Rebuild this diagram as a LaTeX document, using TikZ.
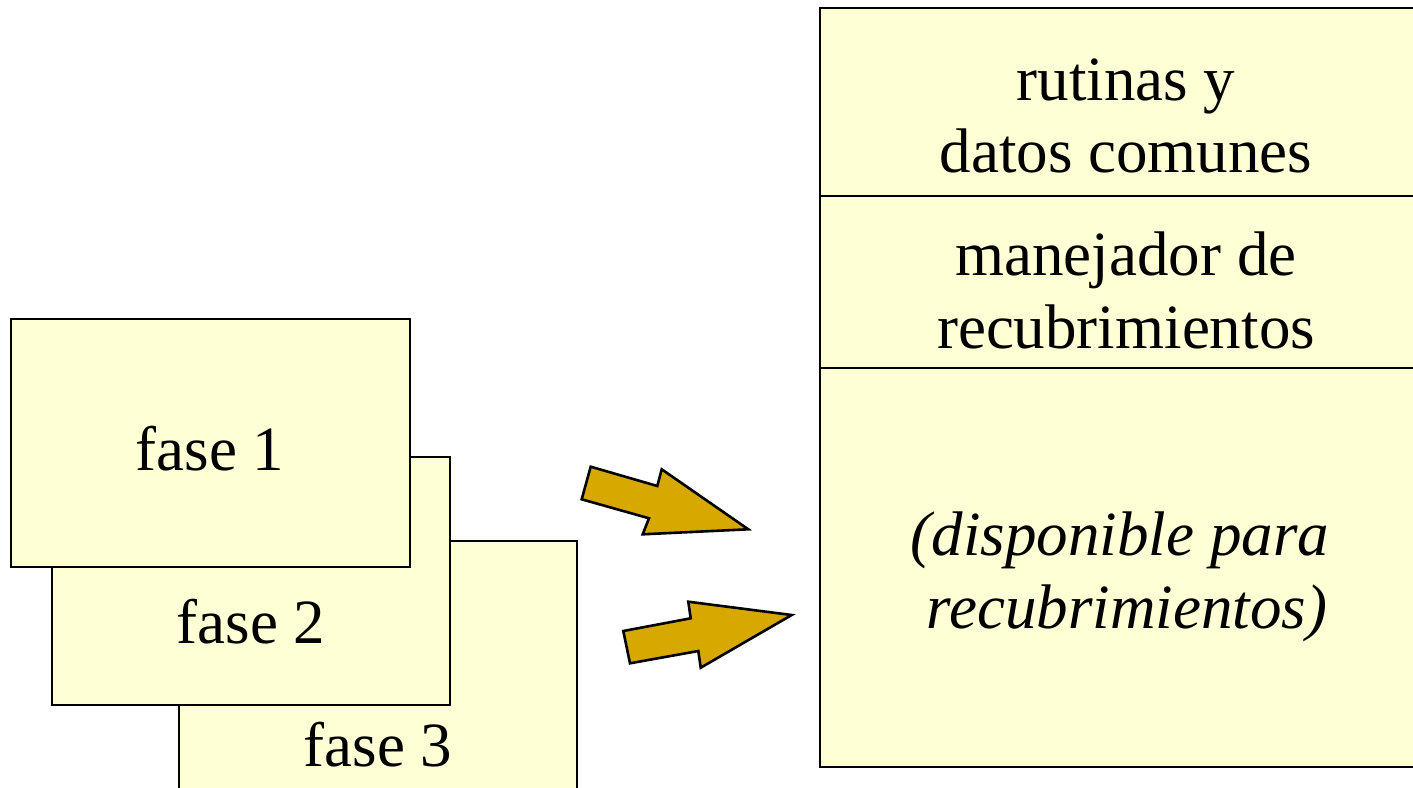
\documentclass[tikz,border=0pt]{standalone}
\usepackage{fontspec}
\setmainfont{Liberation Serif}
\definecolor{paper}{RGB}{255,255,214}
\definecolor{gold}{RGB}{214,168,0}
\begin{document}
\begin{tikzpicture}[x=0.5pt,y=-0.5pt,
  panel/.style={draw=black,line width=1pt,fill=paper},
  bigarrow/.style={draw=black,line width=1.3pt,fill=gold,line join=miter},
  lbl/.style={anchor=base,inner sep=0pt,font=\fontsize{31.5}{36}\selectfont,align=center}]
\useasboundingbox (0,0) rectangle (1413,787);
\clip (0,0) rectangle (1413,787);
% stacked phase sheets, back to front
\path[panel] (179,541) rectangle (577,800);
\path[panel] (52,457) rectangle (450,705);
\path[panel] (11,319) rectangle (410,567);
\node[lbl] (f1) at (210,470) {fase 1};
\node[lbl] (f2) at (251,643) {fase 2};
\node[lbl] (f3) at (378,766) {fase 3};
% memory layout
\path[panel] (820,8) rectangle (1440,767);
\draw[line width=1pt] (820,196) -- (1440,196);
\draw[line width=1pt] (820,368) -- (1440,368);
\node[lbl] (r1) at (1126,100) {rutinas y};
\node[lbl] (r2) at (1126,172) {datos comunes};
\node[lbl] (m1) at (1126,275) {manejador de};
\node[lbl] (m2) at (1126,348) {recubrimientos};
\node[lbl,font=\fontsize{31.5}{36}\selectfont\itshape] (d1) at (1120,555) {(disponible para};
\node[lbl,font=\fontsize{31.5}{36}\selectfont\itshape] (d2) at (1127,628) {recubrimientos)};
% block arrows
\draw[bigarrow] (590.7,466.7) -- (657.3,486) -- (661.7,469.3) -- (748.3,529.3)
  -- (642.7,534.3) -- (649,518.3) -- (581.7,499.3) -- cycle;
\draw[bigarrow] (623.3,631) -- (690.7,618.3) -- (688.3,601.7) -- (791.7,615)
  -- (700.7,667.7) -- (698.3,651) -- (630,663.3) -- cycle;
\end{tikzpicture}
\end{document}
